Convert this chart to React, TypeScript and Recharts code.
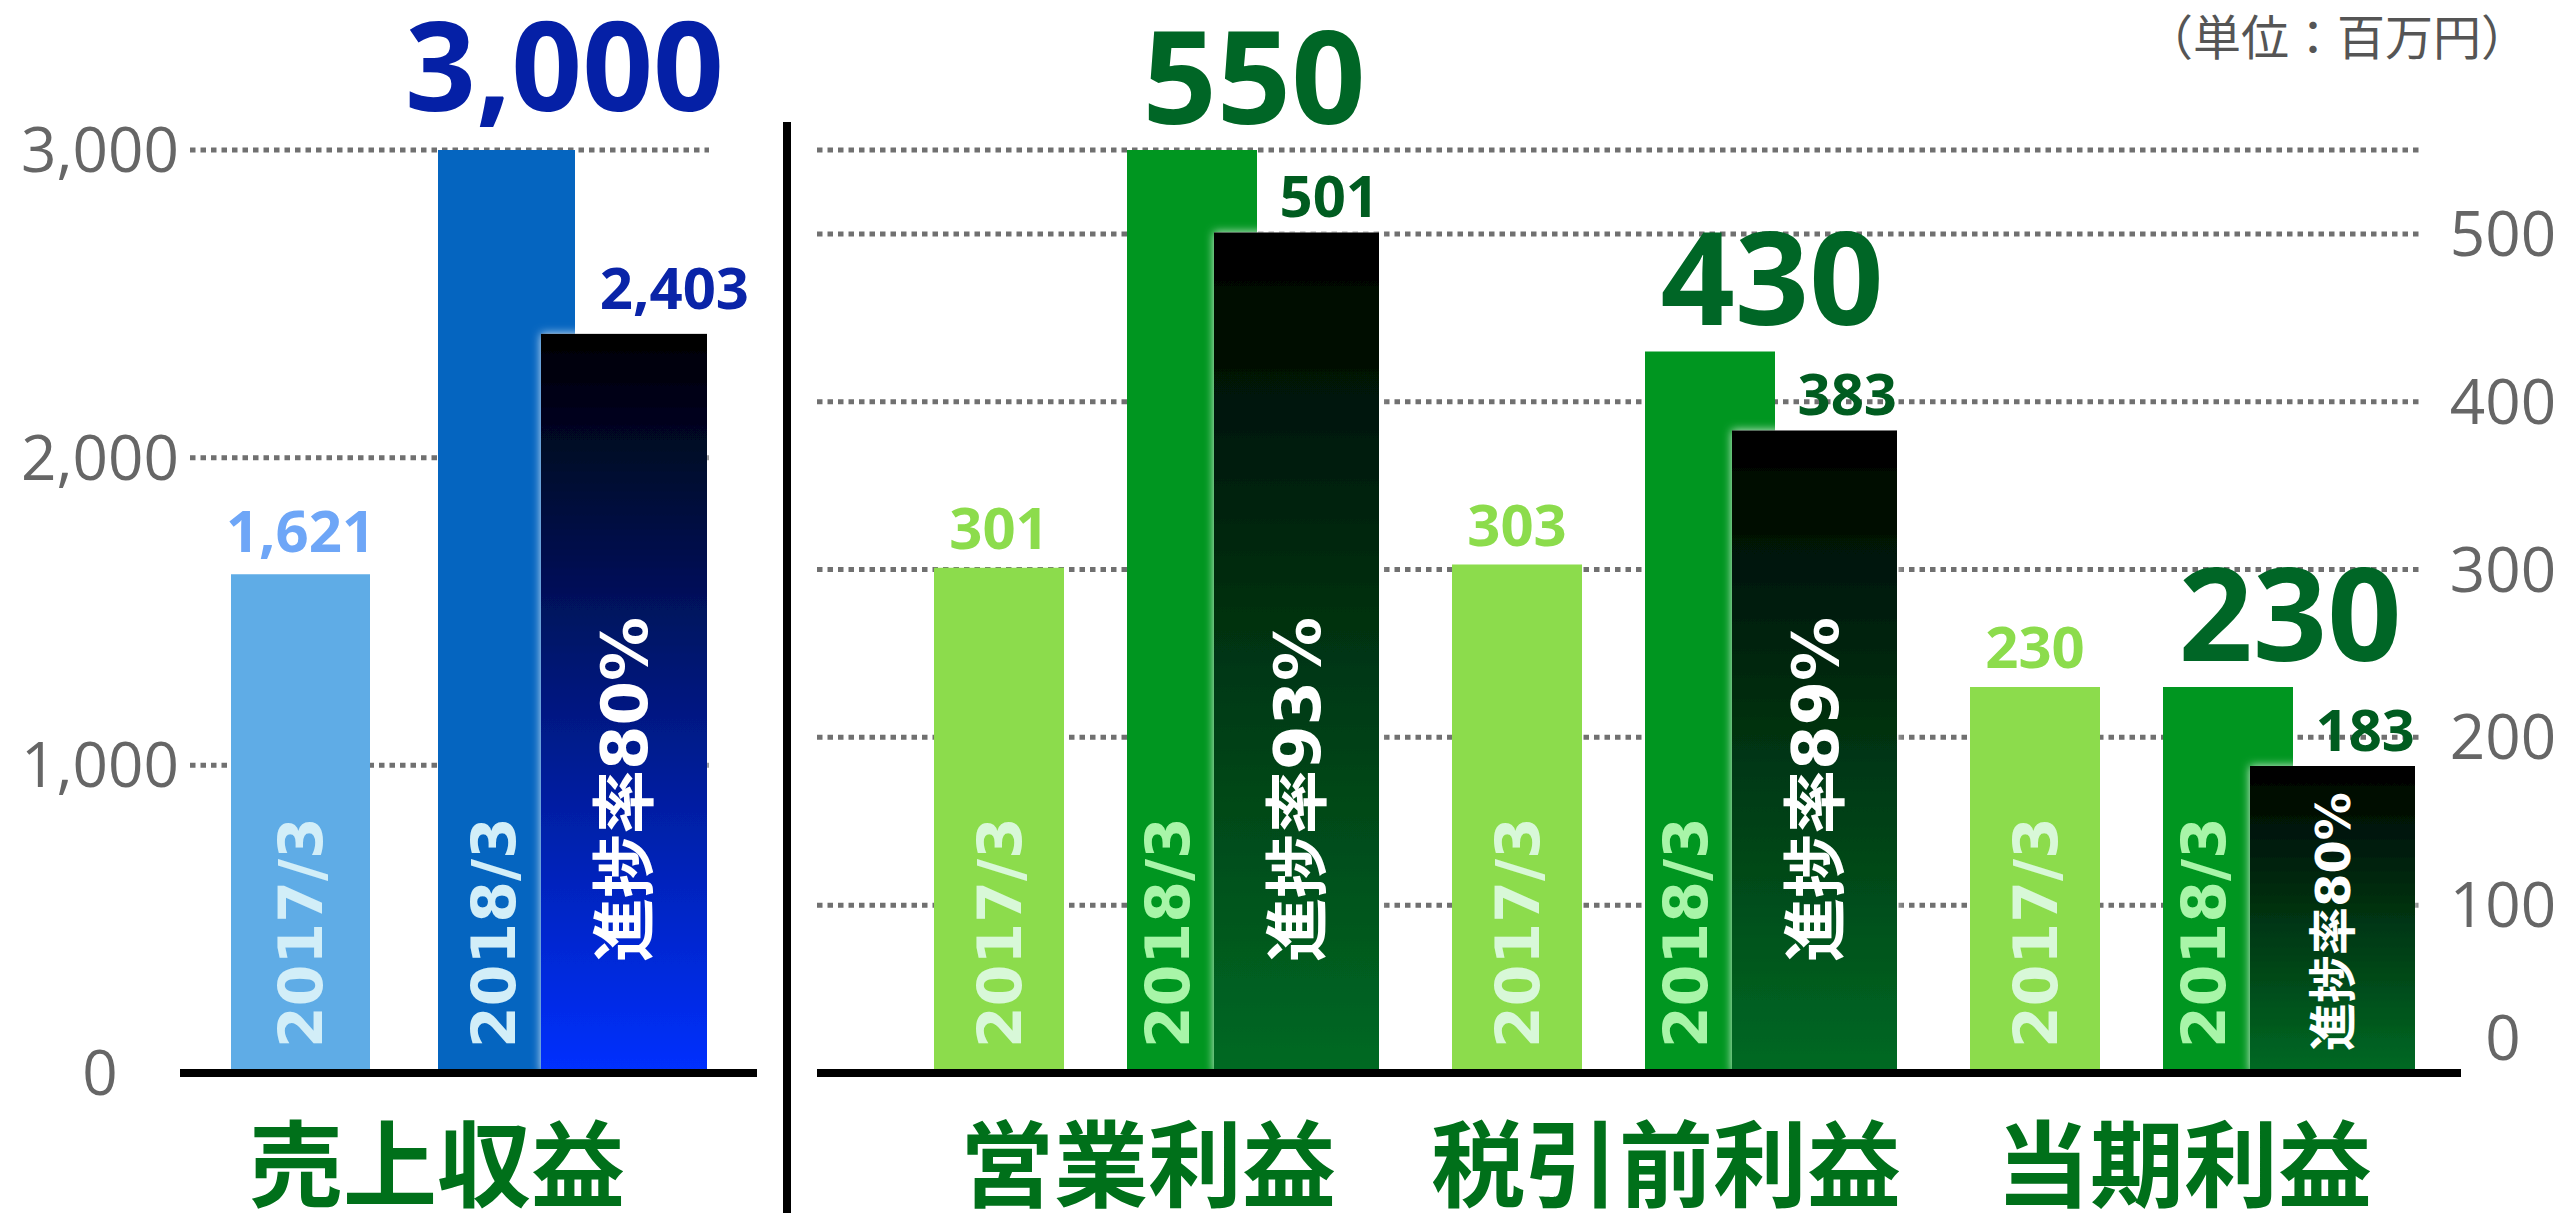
import React from "react";
import { BarChart, Bar, XAxis, YAxis, CartesianGrid, LabelList } from "recharts";

const revenueCategories = ["売上収益"];
const profitCategories = ["営業利益", "税引前利益", "当期利益"];
const periodLabels = ["2017/3", "2018/3"];
const progressPrefix = "進捗率";
const revenuePrev = [1621];
const revenuePlan = [3000];
const revenueActual = [2403];
const revenueProgress = [80];
const profitPrev = [301, 303, 230];
const profitPlan = [550, 430, 230];
const profitActual = [501, 383, 183];
const profitProgress = [93, 89, 80];
const revenueTicks = [0, 1000, 2000, 3000];
const profitTicks = [0, 100, 200, 300, 400, 500];
const unitLabel = "（単位：百万円）";

const buildRows = (cats: string[], prev: number[], plan: number[], act: number[], prog: number[]) =>
  cats.map((name, i) => ({
    name,
    prev: prev[i],
    plan: plan[i],
    act: act[i],
    prevLabel: periodLabels[0],
    planLabel: periodLabels[1],
    progress: `${progressPrefix}${prog[i]}%`,
  }));

const revenueRows = buildRows(revenueCategories, revenuePrev, revenuePlan, revenueActual, revenueProgress);
const profitRows = buildRows(profitCategories, profitPrev, profitPlan, profitActual, profitProgress);

const fmt = (v: any) => (typeof v === "number" ? v.toLocaleString("en-US") : String(v));

const box = (p: any) => {
  const v = p.viewBox || {};
  return {
    x: p.x ?? v.x,
    y: p.y ?? v.y,
    w: p.width ?? v.width,
    h: p.height ?? v.height,
  };
};

const NUM_FONT = "'Open Sans', 'Liberation Sans', sans-serif";
const WIDE_FONT = "'DejaVu Sans', 'Noto Sans CJK JP', sans-serif";
const CJK_FONT = "'Noto Sans CJK JP', sans-serif";

const valueLabel = (opts: { anchor: "start" | "middle" | "end"; dx: number; gap: number; size: number; color: string }) =>
  (p: any) => {
    const { x, y, w } = box(p);
    if (x == null) return null;
    const ax = opts.anchor === "end" ? x + w + opts.dx : opts.anchor === "start" ? x + opts.dx : x + w / 2 + opts.dx;
    return (
      <text
        x={ax}
        y={y - opts.gap}
        textAnchor={opts.anchor}
        fill={opts.color}
        fontSize={opts.size}
        fontWeight={700}
        fontFamily={NUM_FONT}
      >
        {fmt(p.value)}
      </text>
    );
  };

const rotatedLabel = (opts: { dx: number; bottom: (h: number) => number; size: (h: number) => number; color: string }) =>
  (p: any) => {
    const { x, y, w, h } = box(p);
    if (x == null) return null;
    const fs = opts.size(h);
    const cx = x + w / 2 + opts.dx;
    const by = y + h - opts.bottom(h);
    return (
      <text
        transform={`rotate(-90 ${cx} ${by})`}
        x={cx}
        y={by}
        dy={fs * 0.36}
        textAnchor="start"
        fill={opts.color}
        fontSize={fs}
        fontWeight={700}
        fontFamily={WIDE_FONT}
      >
        {p.value}
      </text>
    );
  };

const YTick = (props: any) => {
  const { y, payload, cx, raiseZero } = props;
  const lift = raiseZero && payload.value === 0 ? -35 : 0;
  return (
    <text x={cx} y={y + lift} dy={22} textAnchor="middle" fill="#666666" fontSize={62} fontFamily={NUM_FONT}>
      {fmt(payload.value)}
    </text>
  );
};

const CatTick = (props: any) => {
  const { x, payload } = props;
  return (
    <text x={x} y={1200} textAnchor="middle" fill="#00701A" fontSize={94} fontWeight={700} fontFamily={CJK_FONT}>
      {payload.value}
    </text>
  );
};

type PanelCfg = {
  rows: any[];
  ticks: number[];
  domainMax: number;
  width: number;
  left: number;
  margin: { top: number; right: number; bottom: number; left: number };
  yOrientation: "left" | "right";
  yWidth: number;
  tickCx: number;
  raiseZero: boolean;
  grid: { x: number; width: number };
  pads: { cat: any; prev: any; plan: any; act: any };
  sizes: { prev: number; plan: number; act: number };
  colors: {
    prev: string;
    prevText: string;
    prevPeriod: string;
    plan: string;
    planText: string;
    planPeriod: string;
    actTop: string;
    actBottom: string;
    actText: string;
  };
  bigSize: number;
  bigDx: number;
  bigGap: number;
  prevGap: number;
  actAnchor: "middle" | "end";
  actDx: number;
  actGap: number;
  planPeriodDx: number;
  id: string;
};

const Panel = (c: PanelCfg) => (
  <div style={{ position: "absolute", left: c.left, top: 0 }}>
    <BarChart width={c.width} height={1213} data={c.rows} margin={c.margin}>
      <defs>
        <linearGradient id={`act-${c.id}`} x1="0" y1="0" x2="0" y2="1">
          <stop offset="0%" stopColor={c.colors.actTop} />
          <stop offset="100%" stopColor={c.colors.actBottom} />
        </linearGradient>
        <filter id={`glow-${c.id}`} x="-20%" y="-20%" width="140%" height="140%">
          <feDropShadow dx="0" dy="0" stdDeviation="5" floodColor="#ffffff" floodOpacity="0.85" />
        </filter>
      </defs>
      <CartesianGrid
        xAxisId="cat"
        vertical={false}
        x={c.grid.x}
        width={c.grid.width}
        stroke="#707070"
        strokeWidth={5}
        strokeDasharray="5.5 5"
      />
      <XAxis xAxisId="prev" dataKey="name" hide height={0} padding={c.pads.prev} />
      <XAxis xAxisId="plan" dataKey="name" hide height={0} padding={c.pads.plan} />
      <XAxis xAxisId="act" dataKey="name" hide height={0} padding={c.pads.act} />
      <YAxis
        orientation={c.yOrientation}
        width={c.yWidth}
        domain={[0, c.domainMax]}
        ticks={c.ticks}
        axisLine={false}
        tickLine={false}
        interval={0}
        tick={<YTick cx={c.tickCx} raiseZero={c.raiseZero} />}
      />
      <Bar xAxisId="prev" dataKey="prev" barSize={c.sizes.prev} fill={c.colors.prev} isAnimationActive={false}>
        <LabelList
          dataKey="prev"
          content={valueLabel({ anchor: "middle", dx: 0, gap: c.prevGap, size: 58, color: c.colors.prevText })}
        />
        <LabelList
          dataKey="prevLabel"
          content={rotatedLabel({ dx: 0, bottom: () => 25, size: () => 60, color: c.colors.prevPeriod })}
        />
      </Bar>
      <Bar xAxisId="plan" dataKey="plan" barSize={c.sizes.plan} fill={c.colors.plan} isAnimationActive={false}>
        <LabelList
          dataKey="plan"
          content={valueLabel({ anchor: "middle", dx: c.bigDx, gap: c.bigGap, size: c.bigSize, color: c.colors.planText })}
        />
        <LabelList
          dataKey="planLabel"
          content={rotatedLabel({ dx: c.planPeriodDx, bottom: () => 25, size: () => 60, color: c.colors.planPeriod })}
        />
      </Bar>
      <Bar
        xAxisId="act"
        dataKey="act"
        barSize={c.sizes.act}
        fill={`url(#act-${c.id})`}
        filter={`url(#glow-${c.id})`}
        isAnimationActive={false}
      >
        <LabelList
          dataKey="act"
          content={valueLabel({ anchor: c.actAnchor, dx: c.actDx, gap: c.actGap, size: 58, color: c.colors.actText })}
        />
        <LabelList
          dataKey="progress"
          content={rotatedLabel({
            dx: 0,
            bottom: (h) => (h < 400 ? 22 : 111),
            size: (h) => (h < 400 ? 48 : 64),
            color: "#ffffff",
          })}
        />
      </Bar>
      <XAxis
        xAxisId="cat"
        dataKey="name"
        height={140}
        padding={c.pads.cat}
        axisLine={{ stroke: "#000000", strokeWidth: 8 }}
        tickLine={false}
        interval={0}
        tick={<CatTick />}
      />
    </BarChart>
  </div>
);

export default function App() {
  return (
    <div
      style={{
        position: "absolute",
        left: 0,
        top: 0,
        width: 2561,
        height: 1213,
        background: "#ffffff",
        overflow: "hidden",
      }}
    >
      <Panel
        id="rev"
        rows={revenueRows}
        ticks={revenueTicks}
        domainMax={3000}
        width={780}
        left={0}
        margin={{ top: 150, right: 23, bottom: 0, left: 20 }}
        yOrientation="left"
        yWidth={160}
        tickCx={100}
        raiseZero={false}
        grid={{ x: 190, width: 519 }}
        pads={{
          cat: { left: 0, right: 63 },
          prev: { left: 0, right: 337 },
          plan: { left: 75, right: 0 },
          act: { left: 311, right: 0 },
        }}
        sizes={{ prev: 139, plan: 137, act: 166 }}
        colors={{
          prev: "#5FACE6",
          prevText: "#6EA6F7",
          prevPeriod: "#D2EEF8",
          plan: "#0565C0",
          planText: "#0520A6",
          planPeriod: "#D2EEF8",
          actTop: "#000000",
          actBottom: "#0630FF",
          actText: "#0A24A8",
        }}
        bigSize={124}
        bigDx={58}
        bigGap={39}
        prevGap={22}
        actAnchor="end"
        actDx={42}
        actGap={25}
        planPeriodDx={-13}
      />
      <div
        style={{
          position: "absolute",
          left: 783,
          top: 122,
          width: 8,
          height: 1091,
          background: "#000000",
        }}
      />
      <Panel
        id="prof"
        rows={profitRows}
        ticks={profitTicks}
        domainMax={550}
        width={1761}
        left={800}
        margin={{ top: 150, right: 0, bottom: 0, left: 17 }}
        yOrientation="right"
        yWidth={100}
        tickCx={1703}
        raiseZero={true}
        grid={{ x: 17, width: 1605 }}
        pads={{
          cat: { left: 72, right: 18 },
          prev: { left: -77, right: 167 },
          plan: { left: 116, right: -26 },
          act: { left: 220, right: -130 },
        }}
        sizes={{ prev: 130, plan: 130, act: 165 }}
        colors={{
          prev: "#8CDC4C",
          prevText: "#8CDC4C",
          prevPeriod: "#D8F8D8",
          plan: "#009620",
          planText: "#006626",
          planPeriod: "#A8F5A8",
          actTop: "#000000",
          actBottom: "#006A24",
          actText: "#005C20",
        }}
        bigSize={130}
        bigDx={62}
        bigGap={26}
        prevGap={19}
        actAnchor="end"
        actDx={0}
        actGap={15}
        planPeriodDx={-25}
      />
      <div
        style={{
          position: "absolute",
          left: 2145,
          top: 2,
          fontSize: 48,
          lineHeight: "64px",
          color: "#555555",
          fontFamily: CJK_FONT,
          whiteSpace: "nowrap",
        }}
      >
        {unitLabel}
      </div>
    </div>
  );
}
